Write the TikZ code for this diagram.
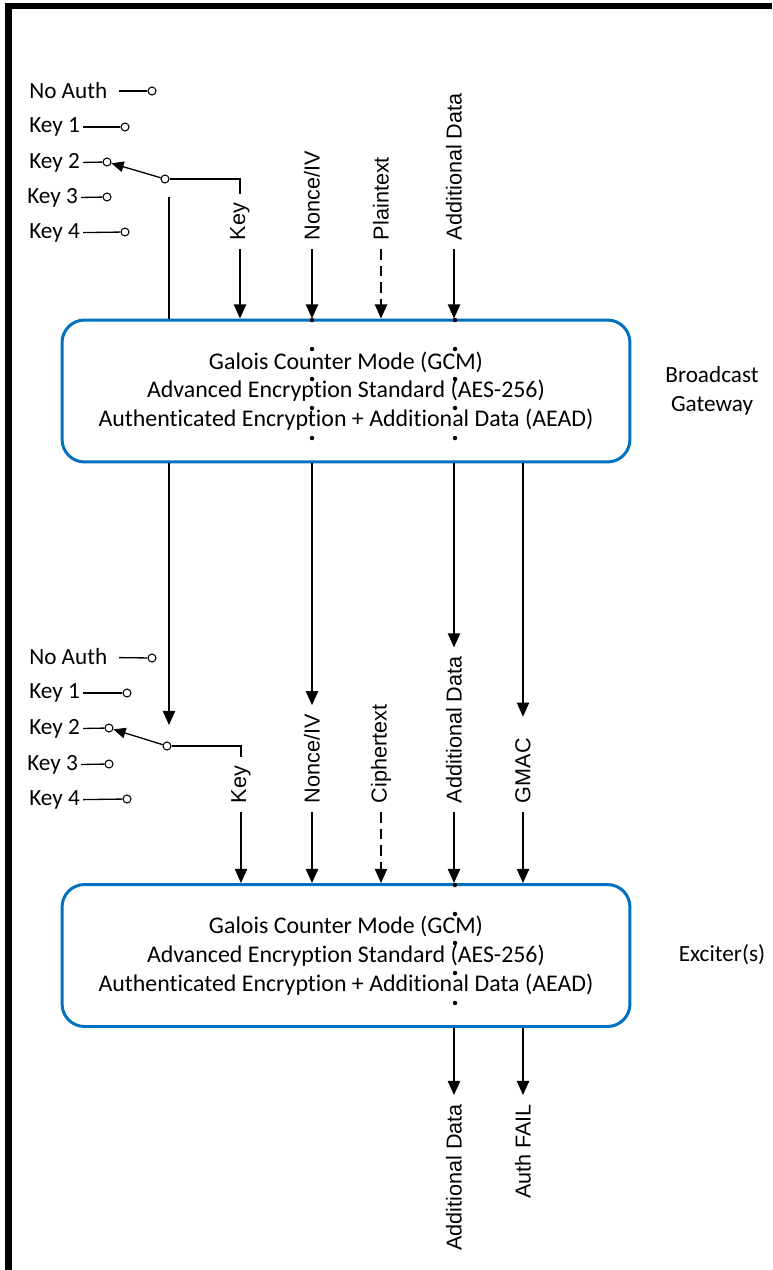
\documentclass[tikz,border=0pt]{standalone}
\usepackage{fontspec}
\setmainfont{Carlito}[Ligatures=NoCommon]
\newfontfamily\arialfont{Liberation Sans}
\usetikzlibrary{positioning, arrows.meta}
\definecolor{gcmblue}{RGB}{0,112,192}

\begin{document}
\begin{tikzpicture}[x=0.02cm, y=0.02cm, line width=0.75pt,
every node/.style={font=\fontsize{13.2}{16.4}\selectfont},
keylab/.style={anchor=west, inner sep=1.5pt},
contact/.style={circle, draw, fill=white, inner sep=0pt, minimum size=0.16cm, line width=0.6pt},
siglab/.style={rotate=90, inner sep=0pt, outer sep=0.18cm, font=\arialfont\fontsize{12.3}{14}\selectfont},
gcmbox/.style={draw=gcmblue, line width=1.7pt, rounded corners=0.45cm,
minimum width=11.36cm, minimum height=2.84cm, align=center, font=\fontsize{13.6}{16.4}\selectfont},
sigarrow/.style={-{Triangle[length=8pt, width=7pt]}},
swarrow/.style={-{Triangle[length=7pt, width=6pt]}}]
\useasboundingbox (0,0) rectangle (772,-1270);
% frame
\fill (5,-3) rectangle (772,-9);
\fill (5,-3) rectangle (12,-1270);

% key selector, gateway side
\node (lNaA) [keylab] at (26,-91) {No Auth};
\node (lK1A) [keylab] at (26,-127) {Key 1};
\node (lK2A) [keylab] at (26,-163) {Key 2};
\node (lK3A) [keylab] at (24,-198) {Key 3};
\node (lK4A) [keylab] at (26,-233) {Key 4};
\node (cNaA) [contact] at (152,-91) {};
\node (cK1A) [contact] at (125,-127) {};
\node (cK2A) [contact] at (107,-162) {};
\node (cK3A) [contact] at (107,-197) {};
\node (cK4A) [contact] at (125,-232) {};
\node (pvA) [contact] at (165,-179) {};
\draw[shorten <=0.17cm] (lNaA) -- (cNaA);
\draw (lK1A) -- (cK1A);
\draw (lK2A) -- (cK2A);
\draw (lK3A) -- (cK3A);
\draw (lK4A) -- (cK4A);
\draw[swarrow] (pvA) -- (cK2A);

% gateway inputs
\node (lbKeyA) [siglab, anchor=west] at (240,-249) {Key};
\node (lbNonceA) [siglab, anchor=west] at (312,-249) {Nonce/IV};
\node (lbPlainA) [siglab, anchor=west] at (381,-249) {Plaintext};
\node (lbAddA) [siglab, anchor=west] at (454,-249) {Additional Data};

\node (boxA) [gcmbox] at (346,-391)
{Galois Counter Mode (GCM)\\Advanced Encryption Standard (AES-256)\\Authenticated Encryption + Additional Data (AEAD)};
\node (gwA) [align=center] at (712,-391) {Broadcast\\Gateway};

\draw (pvA) -| (lbKeyA.east);
\draw[sigarrow] (lbKeyA.west) -- (lbKeyA.west |- boxA.north);
\draw[sigarrow] (lbNonceA.west) -- (lbNonceA.west |- boxA.north);
\draw[sigarrow, dash pattern=on 6pt off 3.5pt] (lbPlainA.west) -- (lbPlainA.west |- boxA.north);
\draw[sigarrow] (lbAddA.west) -- (lbAddA.west |- boxA.north);
\coordinate (tapA) at (169,-197);
\draw (tapA) -- (tapA |- boxA.north);
\foreach \y in {320,349,379,408,438} {
  \fill (312,-\y) circle (0.045cm);
  \fill (455,-\y) circle (0.045cm);
}

% key selector, exciter side
\node (lNaB) [keylab] at (26,-657) {No Auth};
\node (lK1B) [keylab] at (26,-693) {Key 1};
\node (lK2B) [keylab] at (26,-729) {Key 2};
\node (lK3B) [keylab] at (24,-765) {Key 3};
\node (lK4B) [keylab] at (26,-800) {Key 4};
\node (cNaB) [contact] at (152,-658) {};
\node (cK1B) [contact] at (127,-693) {};
\node (cK2B) [contact] at (109,-728) {};
\node (cK3B) [contact] at (109,-764) {};
\node (cK4B) [contact] at (127,-799) {};
\node (pvB) [contact] at (167,-746) {};
\draw[shorten <=0.17cm] (lNaB) -- (cNaB);
\draw (lK1B) -- (cK1B);
\draw (lK2B) -- (cK2B);
\draw (lK3B) -- (cK3B);
\draw (lK4B) -- (cK4B);
\draw[swarrow] (pvB) -- (cK2B);

% exciter inputs
\node (lbKeyB) [siglab, anchor=west] at (241,-812) {Key};
\node (lbNonceB) [siglab, anchor=west] at (312,-812) {Nonce/IV};
\node (lbCipherB) [siglab, anchor=west] at (381,-812) {Ciphertext};
\node (lbAddB) [siglab, anchor=west] at (454,-812) {Additional Data};
\node (lbGmacB) [siglab, anchor=west] at (523,-812) {GMAC};

\node (boxB) [gcmbox] at (346,-955.5)
{Galois Counter Mode (GCM)\\Advanced Encryption Standard (AES-256)\\Authenticated Encryption + Additional Data (AEAD)};
\node (exB) at (722,-955) {Exciter(s)};

\coordinate (tapB) at (169,-725);
\draw[sigarrow] (tapB |- boxA.south) -- (tapB);
\draw[sigarrow] (lbNonceB.east |- boxA.south) -- (lbNonceB.east);
\draw[sigarrow] (lbAddB.east |- boxA.south) -- (lbAddB.east);
\draw[sigarrow, shorten >=0.25cm] (lbGmacB.east |- boxA.south) -- (lbGmacB.east);

\draw (pvB) -| (lbKeyB.east);
\draw[sigarrow] (lbKeyB.west) -- (lbKeyB.west |- boxB.north);
\draw[sigarrow] (lbNonceB.west) -- (lbNonceB.west |- boxB.north);
\draw[sigarrow, dash pattern=on 6pt off 3.5pt] (lbCipherB.west) -- (lbCipherB.west |- boxB.north);
\draw[sigarrow] (lbAddB.west) -- (lbAddB.west |- boxB.north);
\draw[sigarrow] (lbGmacB.west) -- (lbGmacB.west |- boxB.north);
\foreach \y in {885,914,943,973,1003} {
  \fill (455,-\y) circle (0.045cm);
}

% exciter outputs
\node (lbAddC) [siglab, anchor=east] at (454,-1095) {Additional Data};
\node (lbFailC) [siglab, anchor=east] at (523,-1095) {Auth FAIL};
\draw[sigarrow] (lbAddC.east |- boxB.south) -- (lbAddC.east);
\draw[sigarrow] (lbFailC.east |- boxB.south) -- (lbFailC.east);
\end{tikzpicture}
\end{document}
